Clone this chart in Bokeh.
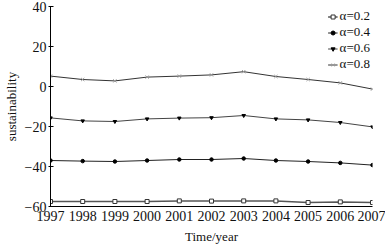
from bokeh.plotting import figure
from bokeh.models import Range1d, FixedTicker, CustomJSTickFormatter, Legend, LegendItem
from bokeh.embed import file_html
from bokeh.resources import INLINE

years = [1997, 1998, 1999, 2000, 2001, 2002, 2003, 2004, 2005, 2006, 2007]
a02 = [-57.5, -57.5, -57.5, -57.5, -57.2, -57.3, -57.2, -57.2, -58.0, -57.7, -58.0]
a04 = [-37.0, -37.3, -37.5, -37.0, -36.5, -36.5, -36.0, -37.0, -37.5, -38.2, -39.3]
a06 = [-15.7, -17.2, -17.5, -16.2, -15.8, -15.6, -14.5, -16.2, -16.7, -18.0, -20.2]
a08 = [5.2, 3.5, 2.8, 4.7, 5.2, 5.8, 7.4, 5.0, 3.5, 1.8, -1.3]
labels = ["α=0.2", "α=0.4", "α=0.6", "α=0.8"]
y_ticks = [-60, -40, -20, 0, 20, 40]

FONT = "Liberation Serif"

p = figure(width=385, height=246, output_backend="svg", toolbar_location=None,
           x_range=Range1d(1997, 2007), y_range=Range1d(-60, 40),
           min_border_left=42, min_border_right=13, min_border_top=6, min_border_bottom=40)
p.outline_line_color = None
p.xgrid.visible = False
p.ygrid.visible = False
p.background_fill_color = "white"
p.border_fill_color = "white"

fmt = CustomJSTickFormatter(code="return tick < 0 ? '\u2212' + Math.abs(tick) : String(tick);")

p.xaxis.ticker = FixedTicker(ticks=years)
p.yaxis.ticker = FixedTicker(ticks=y_ticks)
p.yaxis.formatter = fmt
for ax in (p.xaxis[0], p.yaxis[0]):
    ax.axis_line_color = "black"
    ax.axis_line_width = 1
    ax.major_tick_line_color = "black"
    ax.minor_tick_line_color = None
    ax.major_label_text_font = FONT
    ax.major_label_text_font_size = "14px"
    ax.major_label_text_color = "#111111"
    ax.axis_label_text_font = FONT
    ax.axis_label_text_font_size = "13px"
    ax.axis_label_text_font_style = "normal"
    ax.axis_label_text_color = "#111111"

p.xaxis.major_tick_in = 0
p.xaxis.major_tick_out = 0
p.xaxis.major_label_standoff = 4
p.xaxis.axis_label = "Time/year"
p.xaxis.axis_label_standoff = 5

p.yaxis.major_tick_in = 3
p.yaxis.major_tick_out = 2
p.yaxis.major_label_standoff = 2
p.yaxis.axis_label = "sustainability"
p.yaxis.axis_label_standoff = 3

items = []
l1 = p.line(years, a02, line_color="#555555", line_width=1.5)
m1 = p.scatter(years, a02, marker="square", size=4, fill_color="white", line_color="#333333", line_width=1)
items.append(LegendItem(label=labels[0], renderers=[l1, m1]))

l2 = p.line(years, a04, line_color="#222222", line_width=1)
m2 = p.scatter(years, a04, marker="circle", size=3.5, fill_color="black", line_color="black")
items.append(LegendItem(label=labels[1], renderers=[l2, m2]))

l3 = p.line(years, a06, line_color="#444444", line_width=1)
m3 = p.scatter(years, a06, marker="inverted_triangle", size=3.5, fill_color="black", line_color="black")
items.append(LegendItem(label=labels[2], renderers=[l3, m3]))

l4 = p.line(years, a08, line_color="#333333", line_width=1)
m4 = p.scatter(years, a08, marker="x", size=4.5, line_color="#999999", line_width=1)
items.append(LegendItem(label=labels[3], renderers=[l4, m4]))

legend = Legend(items=items, location="top_right", margin=2, padding=2, spacing=0,
                label_text_font=FONT, label_text_font_size="13px", label_text_color="#111111",
                label_height=11, glyph_height=11, glyph_width=10, label_standoff=2,
                border_line_color=None, background_fill_alpha=0)
p.add_layout(legend)

open("out.html", "w").write(file_html(p, INLINE))
